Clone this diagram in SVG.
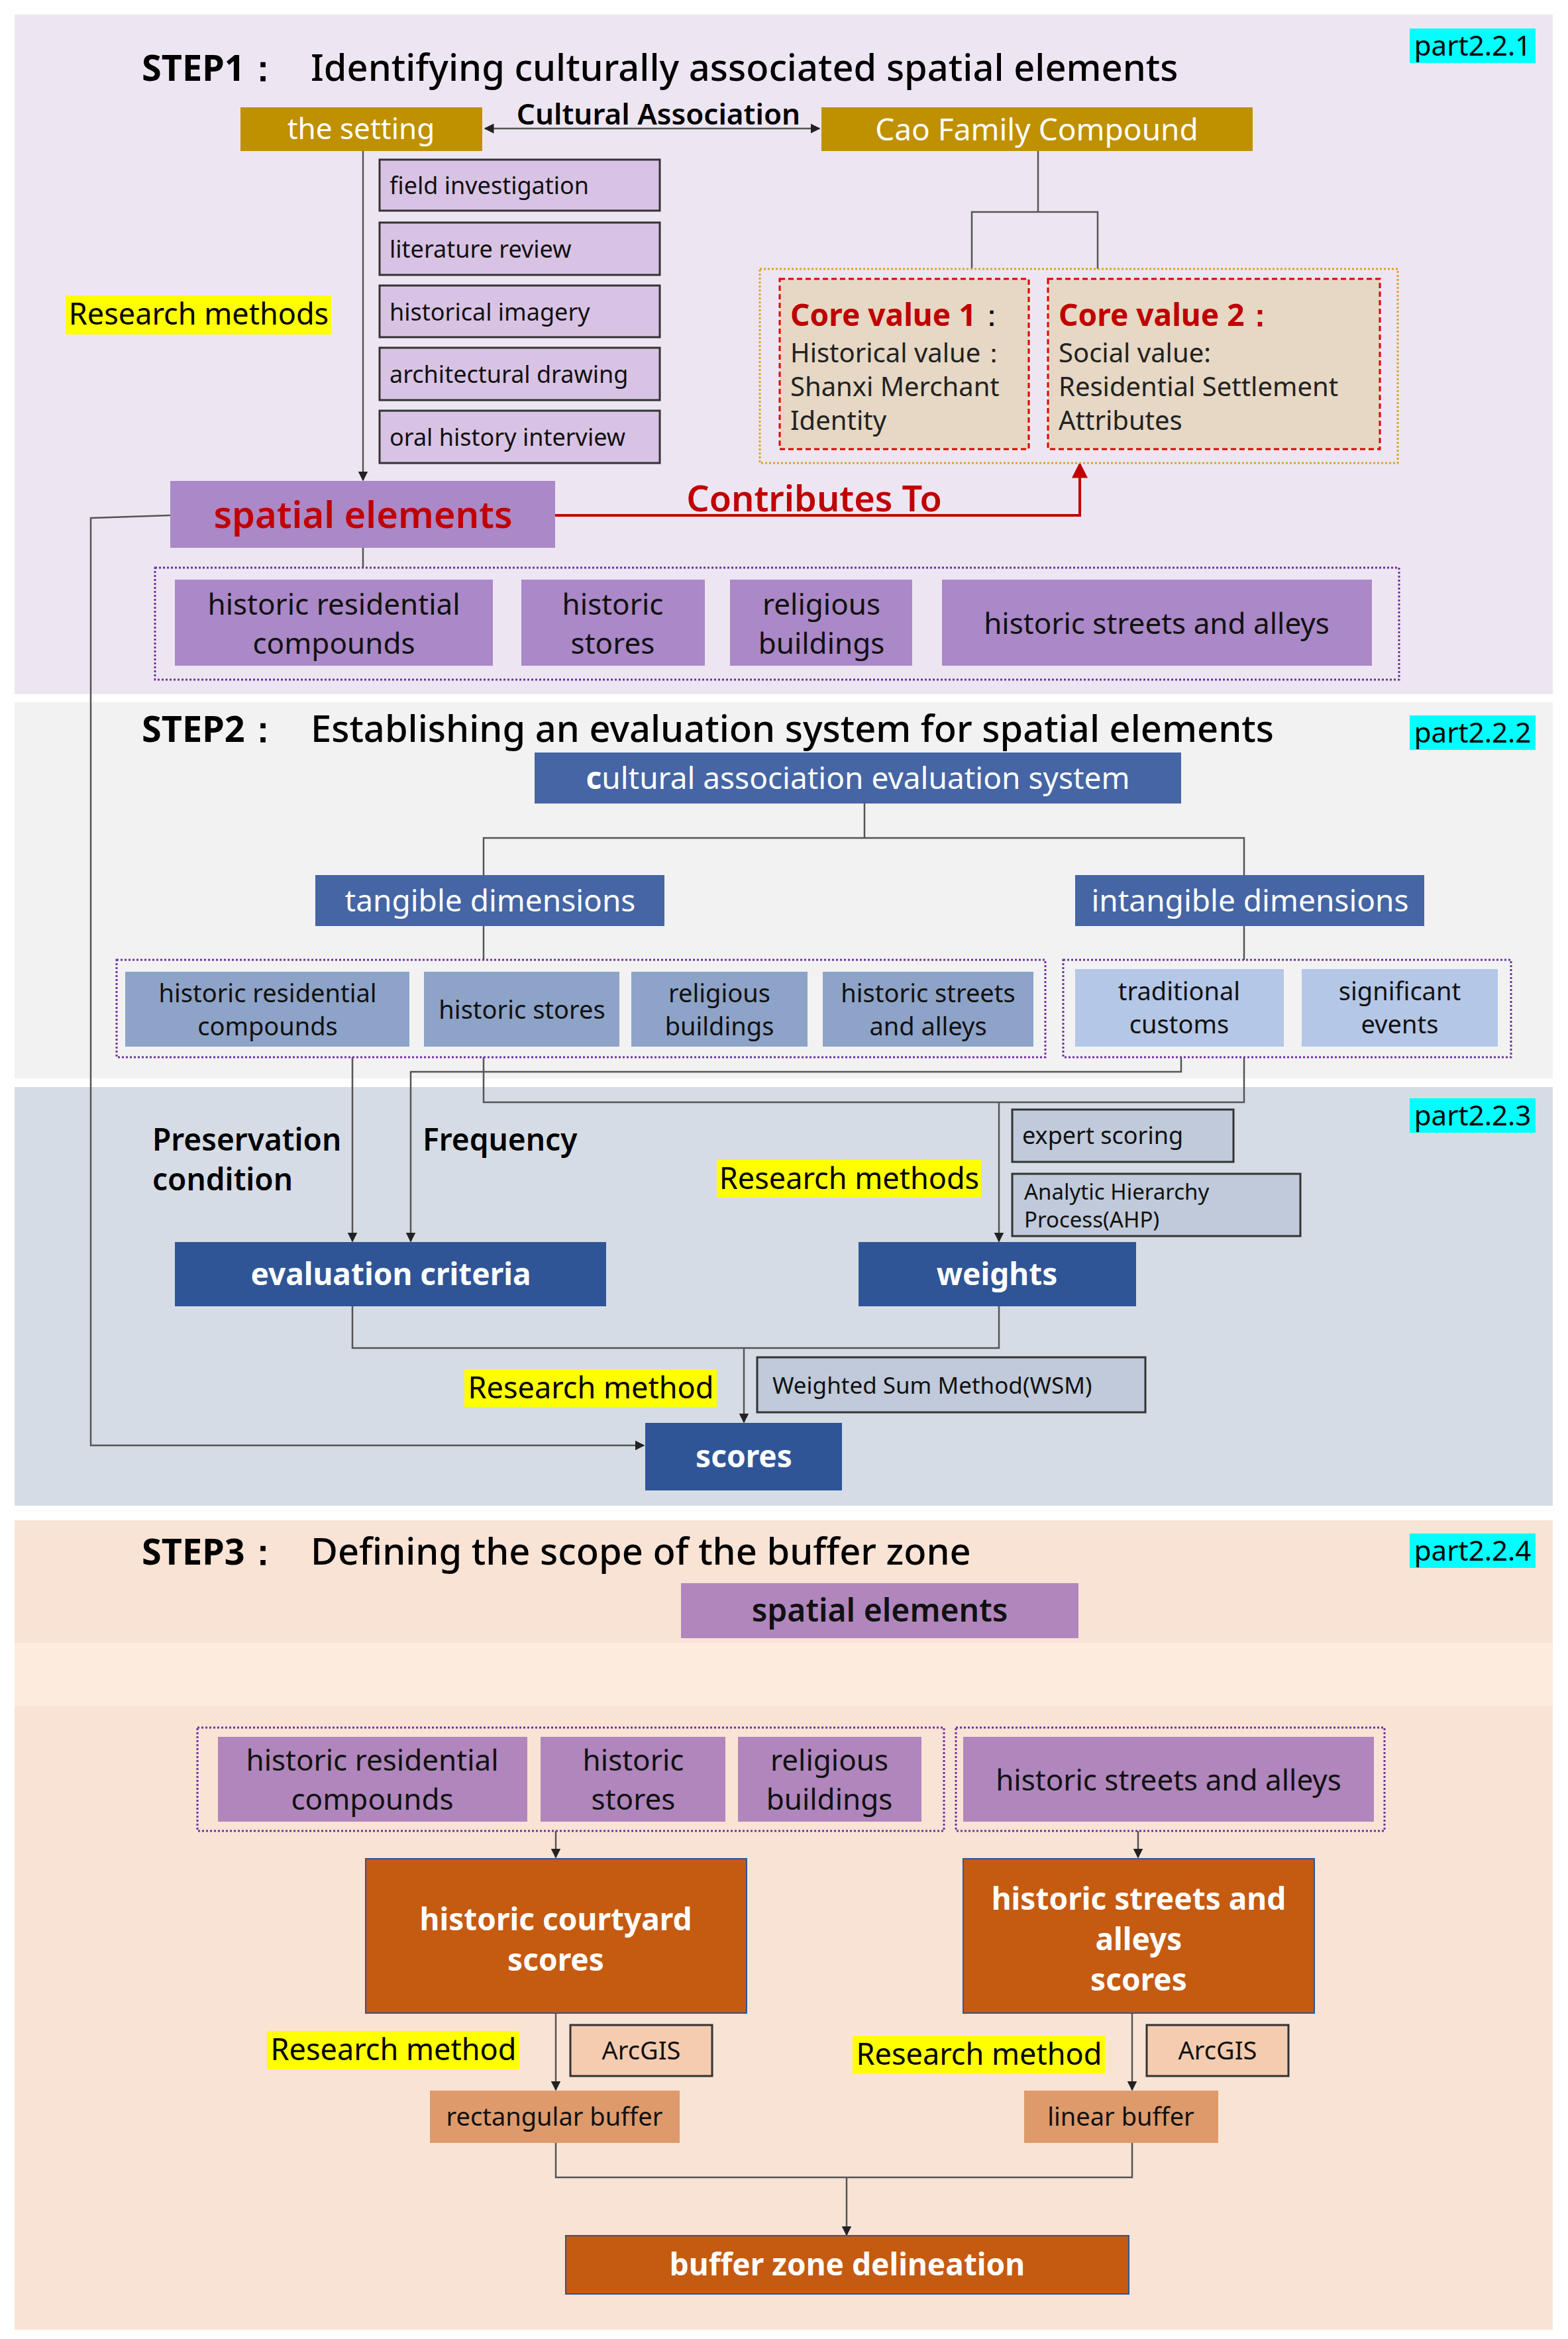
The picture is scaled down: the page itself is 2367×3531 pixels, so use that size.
<svg xmlns="http://www.w3.org/2000/svg" width="2367" height="3531" viewBox="0 0 2367 3531">
<defs>
<marker id="ah" viewBox="0 0 10 10" refX="9" refY="5" markerWidth="6" markerHeight="6" orient="auto-start-reverse"><path d="M0,0L10,5L0,10z" fill="#222"/></marker>
<marker id="ahr" viewBox="0 0 10 10" refX="9" refY="5" markerWidth="6" markerHeight="6" orient="auto"><path d="M0,0L10,5L0,10z" fill="#c00000"/></marker>
<style>
text{font-family:"Noto Sans","Open Sans",sans-serif}
.t{font-size:56px;font-weight:500;fill:#000}
.tb{font-size:54px;font-weight:bold;fill:#000}
.part{font-size:42px;fill:#000}
.gold{fill:#bf9000}
.w{fill:#fff}
.meth{fill:#d9c3e5;stroke:#333;stroke-width:3}
.m{font-size:36px;fill:#111}
.pur{fill:#ab88c7}
.pur3{fill:#b086bd}
.b{font-size:44px;fill:#111}
.hl{fill:#ffff00}
.hlt{font-size:45px;fill:#000}
.ln{fill:none;stroke:#555;stroke-width:2.5}
.dotp{fill:none;stroke:#7030a0;stroke-width:3;stroke-dasharray:3 3}
.dk{fill:#4565a5}
.mid{fill:#8ea3c8}
.lt{fill:#b4c7e7}
.navy{fill:#2f5597}
.grayb{fill:#c0cada;stroke:#333;stroke-width:3}
.or{fill:#c55a11;stroke:#2f5597;stroke-width:2}
.wb{font-size:46px;font-weight:bold;fill:#fff}
</style>
</defs>
<g id="backgrounds">
<rect x="22" y="22" width="2322" height="1026" fill="#ede6f2"/>
<rect x="22" y="1060" width="2322" height="568" fill="#f2f2f2"/>
<rect x="22" y="1641" width="2322" height="632" fill="#d6dce5"/>
<rect x="22" y="2295" width="2322" height="1222" fill="#f9e3d5"/>
<rect x="22" y="2480" width="2322" height="95" fill="#fdecdd"/>
</g>
<g id="titles">
<text x="214" y="122" class="tb">STEP1：</text><text x="469" y="122" class="t">Identifying culturally associated spatial elements</text>
<text x="214" y="1120" class="tb">STEP2：</text><text x="469" y="1120" class="t">Establishing an evaluation system for spatial elements</text>
<text x="214" y="2362" class="tb">STEP3：</text><text x="469" y="2362" class="t">Defining the scope of the buffer zone</text>
<rect x="2128" y="43" width="190" height="52" fill="#00ffff"/><text x="2223" y="84" class="part" text-anchor="middle">part2.2.1</text>
<rect x="2128" y="1080" width="190" height="52" fill="#00ffff"/><text x="2223" y="1121" class="part" text-anchor="middle">part2.2.2</text>
<rect x="2128" y="1658" width="190" height="52" fill="#00ffff"/><text x="2223" y="1699" class="part" text-anchor="middle">part2.2.3</text>
<rect x="2128" y="2315" width="190" height="52" fill="#00ffff"/><text x="2223" y="2356" class="part" text-anchor="middle">part2.2.4</text>
</g>
<g id="connectors">
<line x1="732" y1="194" x2="1237" y2="194" class="ln" marker-start="url(#ah)" marker-end="url(#ah)"/>
<line x1="548" y1="228" x2="548" y2="725" class="ln" marker-end="url(#ah)"/>
<path d="M1567,228V320M1467,406V320H1657V406" class="ln"/>
<path d="M838,778H1630V700" fill="none" stroke="#c00000" stroke-width="4" marker-end="url(#ahr)"/>
<path d="M548,827V857" class="ln"/>
<path d="M257,778L137,782V2182H972" class="ln" marker-end="url(#ah)"/>
<path d="M1305,1213V1265H730V1321M1305,1265H1878V1321" class="ln"/>
<path d="M730,1398V1449M1878,1398V1449" class="ln"/>
<path d="M532,1596V1874" class="ln" marker-end="url(#ah)"/>
<path d="M1783,1596V1618H620V1874" class="ln" marker-end="url(#ah)"/>
<path d="M730,1596V1664H1878V1596M1508,1664V1874" class="ln" marker-end="url(#ah)"/>
<path d="M532,1972V2035H1508V1972M1123,2035V2147" class="ln" marker-end="url(#ah)"/>
<path d="M839,2764V2804" class="ln" marker-end="url(#ah)"/>
<path d="M1718,2764V2804" class="ln" marker-end="url(#ah)"/>
<path d="M839,3039V3155" class="ln" marker-end="url(#ah)"/>
<path d="M1709,3039V3155" class="ln" marker-end="url(#ah)"/>
<path d="M839,3235V3287H1709V3235M1278,3287V3374" class="ln" marker-end="url(#ah)"/>
<text x="994" y="188" font-size="44" font-weight="600" text-anchor="middle">Cultural Association</text>
<text x="1229" y="772" font-size="54" font-weight="600" fill="#c00000" text-anchor="middle">Contributes To</text>
</g>
<g id="setting"><rect x="363" y="162" width="365" height="66" class="gold"/><text x="545" y="210" font-size="44" class="w" text-anchor="middle">the setting</text></g>
<g id="cao"><rect x="1240" y="162" width="651" height="66" class="gold"/><text x="1565" y="212" font-size="46" class="w" text-anchor="middle">Cao Family Compound</text></g>
<g id="methods1">
<rect x="573" y="241" width="423" height="77" class="meth"/><text x="588" y="293" class="m">field investigation</text>
<rect x="573" y="336" width="423" height="79" class="meth"/><text x="588" y="389" class="m">literature review</text>
<rect x="573" y="431" width="423" height="78" class="meth"/><text x="588" y="484" class="m">historical imagery</text>
<rect x="573" y="525" width="423" height="79" class="meth"/><text x="588" y="578" class="m">architectural drawing</text>
<rect x="573" y="620" width="423" height="79" class="meth"/><text x="588" y="673" class="m">oral history interview</text>
</g>
<g id="rm1"><rect x="99" y="446" width="401" height="59" class="hl"/><text x="300" y="490" class="hlt" text-anchor="middle">Research methods</text></g>
<g id="core">
<rect x="1147" y="406" width="963" height="293" fill="none" stroke="#d9a520" stroke-width="3" stroke-dasharray="3 3"/>
<rect x="1177" y="421" width="376" height="257" fill="#e6d8c4" stroke="#e00000" stroke-width="3" stroke-dasharray="8 5"/>
<text x="1193" y="492" font-size="46" font-weight="bold" fill="#c00000">Core value 1<tspan fill="#000" font-weight="normal">：</tspan></text>
<text x="1193" y="547" font-size="40" fill="#222">Historical value：</text>
<text x="1193" y="598" font-size="40" fill="#222">Shanxi Merchant</text>
<text x="1193" y="649" font-size="40" fill="#222">Identity</text>
<rect x="1582" y="421" width="501" height="257" fill="#e6d8c4" stroke="#e00000" stroke-width="3" stroke-dasharray="8 5"/>
<text x="1598" y="492" font-size="46" font-weight="bold" fill="#c00000">Core value 2：</text>
<text x="1598" y="547" font-size="40" fill="#222">Social value:</text>
<text x="1598" y="598" font-size="40" fill="#222">Residential Settlement</text>
<text x="1598" y="649" font-size="40" fill="#222">Attributes</text>
</g>
<g id="spatial1"><rect x="257" y="726" width="581" height="101" class="pur"/><text x="548" y="797" font-size="56" font-weight="600" fill="#c00000" text-anchor="middle">spatial elements</text></g>
<g id="elements1">
<rect x="234" y="857" width="1878" height="169" class="dotp"/>
<rect x="264" y="875" width="480" height="130" class="pur"/><text x="504" y="928" class="b" text-anchor="middle">historic residential</text><text x="504" y="987" class="b" text-anchor="middle">compounds</text>
<rect x="787" y="875" width="277" height="130" class="pur"/><text x="925" y="928" class="b" text-anchor="middle">historic</text><text x="925" y="987" class="b" text-anchor="middle">stores</text>
<rect x="1102" y="875" width="275" height="130" class="pur"/><text x="1240" y="928" class="b" text-anchor="middle">religious</text><text x="1240" y="987" class="b" text-anchor="middle">buildings</text>
<rect x="1422" y="875" width="649" height="130" class="pur"/><text x="1746" y="957" class="b" text-anchor="middle">historic streets and alleys</text>
</g>
<g id="caes"><rect x="807" y="1136" width="976" height="77" class="dk"/><text x="1295" y="1191" font-size="46" class="w" text-anchor="middle"><tspan font-weight="bold">c</tspan>ultural association evaluation system</text></g>
<g id="tangible"><rect x="476" y="1321" width="527" height="77" class="dk"/><text x="740" y="1376" font-size="46" class="w" text-anchor="middle">tangible dimensions</text></g>
<g id="intangible"><rect x="1623" y="1321" width="527" height="77" class="dk"/><text x="1887" y="1376" font-size="46" class="w" text-anchor="middle">intangible dimensions</text></g>
<g id="tangitems">
<rect x="176" y="1449" width="1402" height="147" class="dotp"/>
<rect x="189" y="1467" width="429" height="113" class="mid"/><text x="404" y="1513" font-size="38" fill="#111" text-anchor="middle">historic residential</text><text x="404" y="1563" font-size="38" fill="#111" text-anchor="middle">compounds</text>
<rect x="640" y="1467" width="295" height="113" class="mid"/><text x="788" y="1538" font-size="38" fill="#111" text-anchor="middle">historic stores</text>
<rect x="953" y="1467" width="266" height="113" class="mid"/><text x="1086" y="1513" font-size="38" fill="#111" text-anchor="middle">religious</text><text x="1086" y="1563" font-size="38" fill="#111" text-anchor="middle">buildings</text>
<rect x="1242" y="1467" width="318" height="113" class="mid"/><text x="1401" y="1513" font-size="38" fill="#111" text-anchor="middle">historic streets</text><text x="1401" y="1563" font-size="38" fill="#111" text-anchor="middle">and alleys</text>
</g>
<g id="intitems">
<rect x="1605" y="1449" width="676" height="147" class="dotp"/>
<rect x="1623" y="1463" width="315" height="117" class="lt"/><text x="1780" y="1510" font-size="38" fill="#111" text-anchor="middle">traditional</text><text x="1780" y="1560" font-size="38" fill="#111" text-anchor="middle">customs</text>
<rect x="1965" y="1463" width="296" height="117" class="lt"/><text x="2113" y="1510" font-size="38" fill="#111" text-anchor="middle">significant</text><text x="2113" y="1560" font-size="38" fill="#111" text-anchor="middle">events</text>
</g>
<g id="labels2">
<text x="230" y="1737" font-size="46" font-weight="600">Preservation</text>
<text x="230" y="1797" font-size="46" font-weight="600">condition</text>
<text x="638" y="1737" font-size="46" font-weight="600">Frequency</text>
<rect x="1082" y="1751" width="399" height="57" class="hl"/><text x="1282" y="1795" class="hlt" text-anchor="middle">Research methods</text>
</g>
<g id="expert"><rect x="1528" y="1675" width="334" height="79" class="grayb"/><text x="1543" y="1727" font-size="36" fill="#111">expert scoring</text></g>
<g id="ahp"><rect x="1528" y="1772" width="435" height="94" class="grayb"/><text x="1546" y="1811" font-size="33" fill="#111">Analytic Hierarchy</text><text x="1546" y="1853" font-size="33" fill="#111">Process(AHP)</text></g>
<g id="criteria"><rect x="264" y="1875" width="651" height="97" class="navy"/><text x="590" y="1940" class="wb" text-anchor="middle">evaluation criteria</text></g>
<g id="weights"><rect x="1296" y="1875" width="419" height="97" class="navy"/><text x="1505" y="1940" class="wb" text-anchor="middle">weights</text></g>
<g id="rm2"><rect x="701" y="2067" width="381" height="57" class="hl"/><text x="892" y="2111" class="hlt" text-anchor="middle">Research method</text></g>
<g id="wsm"><rect x="1143" y="2049" width="586" height="83" class="grayb"/><text x="1166" y="2104" font-size="35" fill="#111">Weighted Sum Method(WSM)</text></g>
<g id="scores"><rect x="974" y="2148" width="297" height="102" class="navy"/><text x="1123" y="2215" class="wb" text-anchor="middle">scores</text></g>
<g id="spatial3"><rect x="1028" y="2390" width="600" height="83" class="pur3"/><text x="1328" y="2448" font-size="48" font-weight="600" fill="#111" text-anchor="middle">spatial elements</text></g>
<g id="elements3">
<rect x="298" y="2608" width="1127" height="156" class="dotp"/>
<rect x="1443" y="2608" width="647" height="156" class="dotp"/>
<rect x="329" y="2622" width="467" height="128" class="pur3"/><text x="562" y="2673" class="b" text-anchor="middle">historic residential</text><text x="562" y="2732" class="b" text-anchor="middle">compounds</text>
<rect x="816" y="2622" width="279" height="128" class="pur3"/><text x="956" y="2673" class="b" text-anchor="middle">historic</text><text x="956" y="2732" class="b" text-anchor="middle">stores</text>
<rect x="1114" y="2622" width="277" height="128" class="pur3"/><text x="1252" y="2673" class="b" text-anchor="middle">religious</text><text x="1252" y="2732" class="b" text-anchor="middle">buildings</text>
<rect x="1454" y="2622" width="620" height="128" class="pur3"/><text x="1764" y="2703" class="b" text-anchor="middle">historic streets and alleys</text>
</g>
<g id="courtyard"><rect x="552" y="2806" width="575" height="233" class="or"/><text x="839" y="2914" class="wb" text-anchor="middle">historic courtyard</text><text x="839" y="2975" class="wb" text-anchor="middle">scores</text></g>
<g id="streetsscores"><rect x="1454" y="2806" width="530" height="233" class="or"/><text x="1719" y="2883" class="wb" text-anchor="middle">historic streets and</text><text x="1719" y="2944" class="wb" text-anchor="middle">alleys</text><text x="1719" y="3005" class="wb" text-anchor="middle">scores</text></g>
<g id="rm3"><rect x="403" y="3066" width="381" height="58" class="hl"/><text x="594" y="3110" class="hlt" text-anchor="middle">Research method</text></g>
<g id="rm4"><rect x="1287" y="3073" width="381" height="58" class="hl"/><text x="1478" y="3117" class="hlt" text-anchor="middle">Research method</text></g>
<g id="arcgis1"><rect x="861" y="3057" width="214" height="77" fill="#f4ccb0" stroke="#333" stroke-width="3"/><text x="968" y="3109" font-size="38" fill="#111" text-anchor="middle">ArcGIS</text></g>
<g id="arcgis2"><rect x="1731" y="3057" width="214" height="77" fill="#f4ccb0" stroke="#333" stroke-width="3"/><text x="1838" y="3109" font-size="38" fill="#111" text-anchor="middle">ArcGIS</text></g>
<g id="rectbuf"><rect x="649" y="3156" width="377" height="79" fill="#de9a6b"/><text x="837" y="3209" font-size="38" fill="#111" text-anchor="middle">rectangular buffer</text></g>
<g id="linbuf"><rect x="1546" y="3156" width="293" height="79" fill="#de9a6b"/><text x="1692" y="3209" font-size="38" fill="#111" text-anchor="middle">linear buffer</text></g>
<g id="bzd"><rect x="854" y="3375" width="850" height="88" class="or"/><text x="1279" y="3435" class="wb" text-anchor="middle">buffer zone delineation</text></g>
</svg>
